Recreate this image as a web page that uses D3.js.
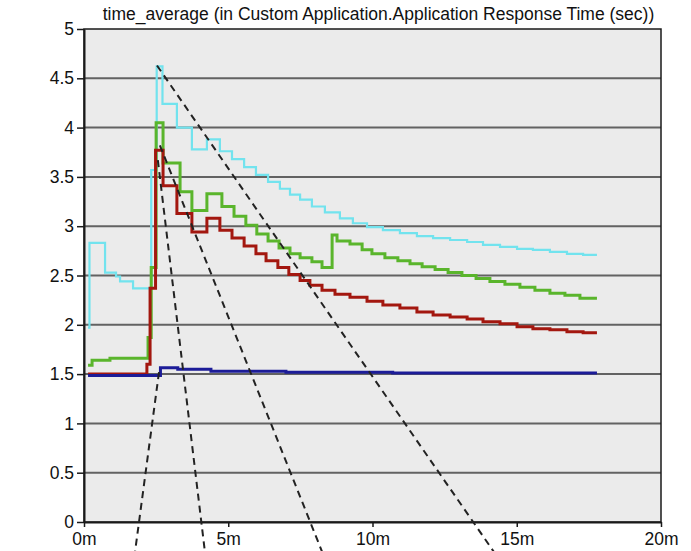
<!DOCTYPE html>
<html>
<head>
<meta charset="utf-8">
<script src="https://cdn.jsdelivr.net/npm/d3@7"></script>
<style>
  body { margin: 0; background: #fff; }
  svg { display: block; font-family: "Liberation Sans", Arial, sans-serif; }
</style>
</head>
<body>
<div id="chart"></div>
<script>
// ===== DATA (minutes, seconds) =====
const chartTitle = 'time_average (in Custom Application.Application Response Time (sec))';
const xTicks = [0, 5, 10, 15, 20];
const xTickLabels = ['0m', '5m', '10m', '15m', '20m'];
const yTicks = [0, 0.5, 1, 1.5, 2, 2.5, 3, 3.5, 4, 4.5, 5];
const yTickLabels = ['0', '0.5', '1', '1.5', '2', '2.5', '3', '3.5', '4', '4.5', '5'];

const cyanSeries = [
  [0.14, 1.97], [0.19, 2.83], [0.73, 2.53], [1.11, 2.49], [1.25, 2.44], [1.70, 2.37],
  [2.33, 3.57], [2.52, 4.62], [2.72, 4.24], [3.22, 4.00], [3.74, 3.78], [4.26, 3.88],
  [4.71, 3.76], [5.13, 3.68], [5.55, 3.60], [5.96, 3.52], [6.38, 3.45], [6.79, 3.38],
  [7.14, 3.32], [7.49, 3.27], [7.90, 3.20], [8.35, 3.14], [8.87, 3.08], [9.32, 3.03],
  [9.81, 2.99], [10.36, 2.96], [10.95, 2.93], [11.54, 2.90], [12.10, 2.88], [12.69, 2.86],
  [13.28, 2.84], [13.83, 2.81], [14.42, 2.79], [15.01, 2.77], [15.56, 2.76], [16.15, 2.74],
  [16.74, 2.72], [17.30, 2.71], [17.78, 2.71]
];

const greenSeries = [
  [0.14, 1.59], [0.28, 1.64], [0.90, 1.66], [2.22, 1.87], [2.33, 2.58], [2.50, 4.05],
  [2.74, 3.64], [3.33, 3.35], [3.74, 3.16], [4.26, 3.33], [4.78, 3.20], [5.20, 3.10],
  [5.61, 3.01], [5.99, 2.92], [6.38, 2.85], [6.76, 2.78], [7.14, 2.72], [7.49, 2.68],
  [7.90, 2.64], [8.25, 2.58], [8.60, 2.91], [8.77, 2.85], [9.22, 2.82], [9.64, 2.76],
  [9.98, 2.72], [10.43, 2.68], [10.88, 2.65], [11.30, 2.62], [11.72, 2.59], [12.17, 2.56],
  [12.62, 2.53], [13.10, 2.50], [13.59, 2.47], [14.07, 2.44], [14.59, 2.41], [15.11, 2.38],
  [15.63, 2.35], [16.15, 2.32], [16.67, 2.30], [17.19, 2.27], [17.78, 2.27]
];

const redSeries = [
  [0.14, 1.50], [2.18, 1.60], [2.29, 2.37], [2.48, 3.77], [2.74, 3.41], [3.22, 3.13],
  [3.74, 2.94], [4.26, 3.08], [4.71, 2.96], [5.13, 2.88], [5.55, 2.80], [5.96, 2.72],
  [6.31, 2.65], [6.72, 2.58], [7.10, 2.51], [7.49, 2.45], [7.83, 2.40], [8.25, 2.35],
  [8.70, 2.31], [9.22, 2.28], [9.81, 2.24], [10.36, 2.20], [10.95, 2.17], [11.54, 2.13],
  [12.10, 2.10], [12.69, 2.08], [13.28, 2.06], [13.83, 2.03], [14.42, 2.01], [15.01, 1.98],
  [15.56, 1.96], [16.15, 1.95], [16.74, 1.93], [17.30, 1.92], [17.78, 1.92]
];

const navySeries = [
  [0.14, 1.485], [2.65, 1.565], [3.25, 1.55], [4.40, 1.53], [7.00, 1.52], [10.70, 1.51], [17.78, 1.51]
];

// dashed guide lines drawn over the chart (start, end)
const guideLines = [
  [[2.53, 4.63], [14.20, -0.30]],
  [[2.63, 3.82], [8.25, -0.30]],
  [[2.56, 3.67], [4.19, -0.30]],
  [[2.60, 1.52], [1.77, -0.30]]
];

// ===== SETUP =====
const width = 691, height = 551;
const margin = { top: 29, right: 30, bottom: 29, left: 84 };

const svg = d3.select('#chart').append('svg')
  .attr('width', width)
  .attr('height', height);

const x = d3.scaleLinear().domain([0, 20]).range([margin.left, width - margin.right]);
const y = d3.scaleLinear().domain([0, 5]).range([height - margin.bottom, margin.top]);

// plot background
svg.append('rect')
  .attr('x', x(0)).attr('y', y(5))
  .attr('width', x(20) - x(0)).attr('height', y(0) - y(5))
  .attr('fill', '#ebebeb');

// grid lines
svg.append('g')
  .selectAll('line')
  .data(yTicks.filter(d => d > 0 && d < 5))
  .join('line')
  .attr('x1', x(0)).attr('x2', x(20))
  .attr('y1', d => y(d)).attr('y2', d => y(d))
  .attr('stroke', '#626262')
  .attr('stroke-width', 2);

// ===== SERIES =====
const line = d3.line()
  .x(d => x(d[0]))
  .y(d => y(d[1]))
  .curve(d3.curveStepAfter);

const series = [
  { data: cyanSeries, color: '#72e3ee', w: 2.2 },
  { data: greenSeries, color: '#5ab52c', w: 3 },
  { data: redSeries, color: '#a3170f', w: 3 },
  { data: navySeries, color: '#1c1c98', w: 3 }
];

series.forEach(s => {
  svg.append('path')
    .datum(s.data)
    .attr('d', line)
    .attr('fill', 'none')
    .attr('stroke', s.color)
    .attr('stroke-width', s.w)
    .attr('stroke-linejoin', 'miter');
});

// frame
svg.append('rect')
  .attr('x', x(0)).attr('y', y(5))
  .attr('width', x(20) - x(0)).attr('height', y(0) - y(5))
  .attr('fill', 'none')
  .attr('stroke', '#1a1a1a')
  .attr('stroke-width', 1.5);

// ===== AXES =====
const yAxis = svg.append('g')
  .attr('transform', `translate(${x(0)},0)`)
  .call(d3.axisLeft(y)
    .tickValues(yTicks)
    .tickFormat((d, i) => yTickLabels[i])
    .tickSize(7)
    .tickSizeOuter(0)
    .tickPadding(3));

const xAxis = svg.append('g')
  .attr('transform', `translate(0,${y(0)})`)
  .call(d3.axisBottom(x)
    .tickValues(xTicks)
    .tickFormat((d, i) => xTickLabels[i])
    .tickSize(5)
    .tickSizeOuter(0)
    .tickPadding(6));

[yAxis, xAxis].forEach(g => {
  g.select('.domain').attr('stroke', '#1a1a1a').attr('stroke-width', 2);
  g.selectAll('.tick line').attr('stroke', '#1a1a1a').attr('stroke-width', 1.5);
  g.selectAll('.tick text')
    .attr('fill', '#111')
    .attr('font-size', '17.5px')
    .attr('font-family', '"Liberation Sans", Arial, sans-serif');
});

// ===== GUIDE LINES =====
svg.append('g')
  .selectAll('line')
  .data(guideLines)
  .join('line')
  .attr('x1', d => x(d[0][0])).attr('y1', d => y(d[0][1]))
  .attr('x2', d => x(d[1][0])).attr('y2', d => y(d[1][1]))
  .attr('stroke', '#222')
  .attr('stroke-width', 2)
  .attr('stroke-dasharray', '7,5');

// ===== TITLE =====
svg.append('text')
  .attr('x', (x(0) + x(20)) / 2 + 6)
  .attr('y', 20)
  .attr('text-anchor', 'middle')
  .attr('font-size', '17.5px')
  .attr('fill', '#111')
  .text(chartTitle);
</script>
</body>
</html>
